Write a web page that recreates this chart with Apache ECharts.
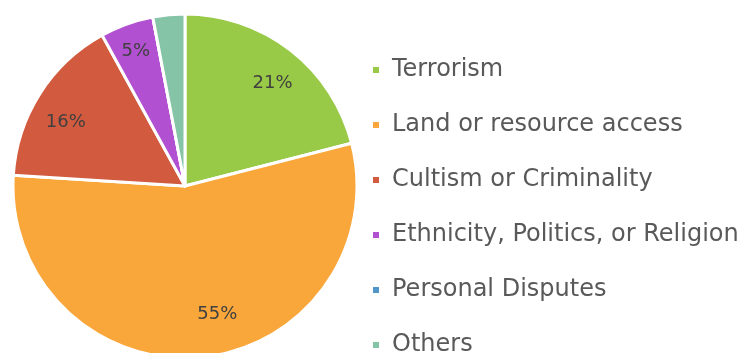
<!DOCTYPE html>
<html><head><meta charset="utf-8">
<script src="https://cdn.jsdelivr.net/npm/echarts@6/dist/echarts.min.js"></script>
<style>html,body{margin:0;padding:0;background:#fff}#c{width:747px;height:353px}</style>
</head><body><div id="c"></div>
<script>
const categories = ["Terrorism","Land or resource access","Cultism or Criminality","Ethnicity, Politics, or Religion","Personal Disputes","Others"];
const values = [21, 55, 16, 5, 0, 3];
const labelShown = [true, true, true, true, false, false];
const colors = ["#98c947","#f9a63a","#d25a3e","#b150d0","#5196cb","#86c4a7"];
const labelOffsets = [[33,-32],[24,40],[-44,-16],[-19,-51],[0,0],[0,0]];
const FONT = "DejaVu Sans";
const chart = echarts.init(document.getElementById('c'));
chart.setOption({
  animation:false,
  color: colors,
  legend:{
    orient:'vertical', left:366, top:50, height:600,
    itemWidth:8, itemHeight:8, itemGap:25, icon:'rect',
    data: categories,
    textStyle:{fontFamily:FONT, fontSize:24, color:'#595959', lineHeight:30, padding:[0,0,0,7]}
  },
  series:[{
    type:'pie', center:[185,186], radius:172, startAngle:90, clockwise:true,
    minAngle:0, avoidLabelOverlap:false,
    itemStyle:{borderColor:'#fff', borderWidth:3},
    label:{show:true, position:'inside', fontFamily:FONT, fontSize:18, color:'#404040',
      formatter: p => p.value + '%'},
    labelLine:{show:false},
    data: categories.map((n,i)=>({name:n, value:values[i], label:{show:labelShown[i], offset:labelOffsets[i]}}))
  }]
});
</script></body></html>
